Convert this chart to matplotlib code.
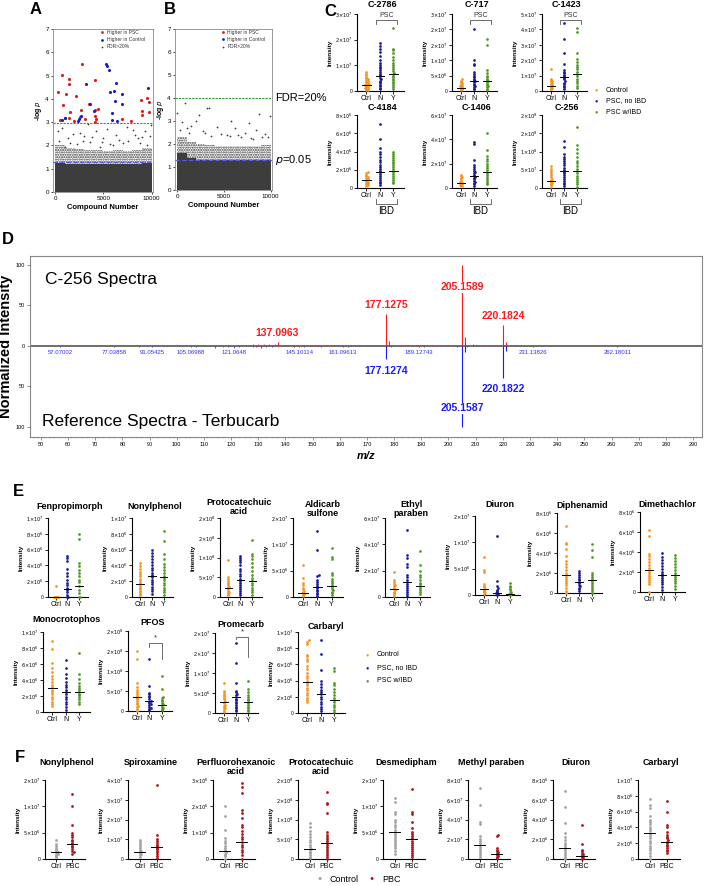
import numpy as np
import matplotlib
matplotlib.use('Agg')
import matplotlib.pyplot as plt
import matplotlib.transforms as mtransforms

plt.rcParams['font.family'] = ['Liberation Sans', 'DejaVu Sans']
plt.rcParams['mathtext.fontset'] = 'dejavusans'

# ---------------- data: panel A / B (volcano-like -log p plots) ----------------
a_psc_x = [240, 690, 790, 1100, 1380, 1380, 1550, 1380, 1900, 2170, 2760, 2690, 2590, 3100, 3450,
           4070, 4070, 4140, 4210, 4070, 4410, 6900, 7830, 8860, 8970, 8970, 9480, 9760, 9690, 490, 1010]
a_psc_y = [4.29, 5.01, 3.75, 4.22, 4.84, 4.65, 3.43, 3.19, 3.05, 4.11, 5.51, 3.53, 3.22, 3.15, 3.76,
           4.79, 3.53, 3.25, 3.15, 3.0, 3.58, 3.12, 3.05, 3.96, 3.5, 3.32, 4.05, 3.86, 3.43, 3.08, 3.18]
a_ctrl_x = [690, 970, 2310, 2410, 2690, 3210, 3620, 3970, 5280, 5410, 5550, 5690, 5860, 5930, 6100,
            6280, 6210, 6380, 6970, 6930, 9660]
a_ctrl_y = [3.10, 3.19, 3.05, 3.12, 3.26, 4.65, 3.79, 3.5, 5.51, 5.39, 5.22, 4.29, 3.39, 3.1, 4.33,
            4.68, 3.91, 3.05, 4.22, 3.79, 4.48]
a_gray_x = [400, 700, 1000, 1300, 1800, 2200, 2600, 3000, 3400, 3600, 4200, 4600, 5000, 5400, 6000,
            6600, 7400, 7600, 8100, 8300, 8800, 9000, 9500, 9800, 9900, 1500, 2900, 4800, 5700, 7000,
            8600, 9300, 300, 3800, 6300]
a_gray_y = [2.2, 2.75, 1.95, 2.3, 2.5, 2.05, 2.55, 2.4, 2.9, 2.15, 2.6, 1.95, 2.3, 2.7, 2.0,
            2.25, 2.8, 2.2, 2.65, 2.45, 2.1, 2.35, 2.0, 2.42, 2.88, 2.1, 2.2, 2.15, 2.05, 2.1,
            2.3, 2.6, 2.6, 2.35, 2.45]
b_gray_x = [0, 800, 3200, 3350, 2300, 9900, 8800, 5800, 2000, 500, 7700, 1500, 4200, 6200, 8400, 7300,
            1200, 9400, 5300, 3600, 6800, 9100, 300, 2700, 4700, 5600, 7900, 1000, 3000, 6500, 8100, 9700]
b_gray_y = [3.35, 3.8, 3.55, 3.55, 3.25, 3.2, 3.3, 3.0, 3.0, 2.95, 2.9, 2.8, 2.75, 2.7, 2.6, 2.5,
            2.5, 2.45, 2.4, 2.35, 2.3, 2.3, 2.6, 2.55, 2.45, 2.35, 2.25, 2.7, 2.5, 2.4, 2.2, 2.3]
# envelope of the dense point cloud per 1000-compound bin
cloud_edges = [0, 1000, 2000, 3000, 4000, 5000, 6000, 7000, 8000, 9000, 10000]
a_solid_top = [1.25, 1.2, 1.2, 1.2, 1.2, 1.2, 1.2, 1.2, 1.2, 1.25]
a_speck_top = [2.0, 1.9, 1.85, 1.8, 1.8, 1.75, 1.8, 1.75, 1.8, 1.9]
b_solid_top = [1.6, 1.4, 1.3, 1.3, 1.3, 1.3, 1.3, 1.3, 1.3, 1.3]
b_speck_top = [2.3, 2.1, 2.0, 1.95, 1.9, 1.9, 1.9, 1.9, 1.9, 1.95]
a_fdr, b_fdr, p05 = 2.95, 4.0, 1.3

# ---------------- data: panel C (units noted per compound) ----------------
c2786 = ([7.4, 6.8, 6.2, 5.5, 5.0, 4.6, 4.2, 3.8, 3.5, 3.2, 2.9, 2.6, 2.4, 2.2, 2.0, 1.8, 1.5, 1.2, 1.0, 0.8, 0.5, 0.3],
         [18.7, 17.5, 16.3, 15.2, 13.5, 12.0, 11.0, 10.2, 9.4, 8.8, 8.0, 7.4, 6.8, 6.2, 5.8, 5.2, 4.6, 4.0, 3.5, 3.0, 2.4, 1.8, 1.2, 0.6],
         [24.5, 16.5, 15.8, 15.0, 13.2, 12.2, 11.0, 10.0, 9.2, 8.4, 7.8, 7.2, 6.6, 6.0, 5.4, 4.8, 4.2, 3.6, 3.0, 2.4, 1.6, 0.8])
c2786_med = [2.5, 6.0, 6.8]
c717 = ([3.8, 3.4, 3.0, 2.6, 2.3, 2.0, 1.7, 1.5, 1.3, 1.1, 0.9, 0.7, 0.5, 0.3],
        [20.0, 10.2, 8.9, 8.4, 6.2, 5.6, 5.0, 4.5, 4.0, 3.6, 3.2, 2.8, 2.4, 2.0, 1.6, 1.2, 0.8, 0.5],
        [16.8, 14.9, 6.7, 5.7, 5.0, 4.5, 4.0, 3.6, 3.2, 2.8, 2.4, 2.0, 1.6, 1.2, 0.8, 0.4])
c717_med = [1.1, 3.3, 3.3]
c1423 = ([1.45, 0.78, 0.72, 0.65, 0.58, 0.52, 0.46, 0.4, 0.35, 0.3, 0.25, 0.2, 0.15, 0.1],
         [4.4, 3.35, 2.5, 1.78, 1.35, 1.25, 1.15, 1.05, 0.95, 0.85, 0.75, 0.65, 0.55, 0.45, 0.35, 0.25, 0.15],
         [4.1, 3.85, 2.45, 2.1, 1.9, 1.7, 1.55, 1.4, 1.25, 1.1, 0.95, 0.8, 0.65, 0.5, 0.35, 0.2])
c1423_med = [0.3, 0.91, 1.08]
c4184 = ([1.75, 1.6, 1.45, 1.3, 1.2, 1.1, 1.0, 0.9, 0.8, 0.7, 0.6, 0.5, 0.4, 0.3, 0.2],
         [7.0, 5.4, 4.4, 3.9, 3.7, 3.4, 3.1, 2.8, 2.5, 2.3, 2.1, 1.9, 1.7, 1.5, 1.3, 1.1, 0.9, 0.7, 0.5, 0.3],
         [3.9, 3.7, 3.5, 3.3, 3.1, 2.9, 2.7, 2.5, 2.3, 2.1, 1.9, 1.7, 1.5, 1.3, 1.1, 0.9, 0.7, 0.5])
c4184_med = [0.9, 1.8, 1.9]
c1406 = ([1.1, 1.0, 0.9, 0.8, 0.7, 0.6, 0.5, 0.45, 0.4, 0.35, 0.3, 0.25, 0.2, 0.15],
         [3.8, 3.6, 2.3, 1.9, 1.7, 1.55, 1.4, 1.3, 1.2, 1.1, 1.0, 0.9, 0.8, 0.7, 0.6, 0.5, 0.4, 0.3, 0.2],
         [4.5, 3.1, 2.6, 2.4, 2.2, 2.0, 1.8, 1.65, 1.5, 1.35, 1.2, 1.05, 0.9, 0.75, 0.6, 0.45, 0.3])
c1406_med = [0.42, 1.0, 1.3]
c256 = ([6.0, 5.2, 4.6, 4.0, 3.5, 3.0, 2.6, 2.2, 1.9, 1.6, 1.3, 1.0, 0.7, 0.4],
        [13.0, 11.2, 9.2, 8.6, 8.0, 7.4, 6.8, 6.2, 5.6, 5.0, 4.5, 4.0, 3.5, 3.0, 2.5, 2.0, 1.5, 1.0, 0.5],
        [16.7, 11.7, 10.7, 9.5, 8.5, 7.5, 6.8, 6.0, 5.3, 4.6, 4.0, 3.4, 2.8, 2.2, 1.6, 1.0, 0.4])
c256_med = [1.9, 4.6, 4.6]

# ---------------- data: panel D (MS/MS spectra) ----------------
spec_mz = [137.0963, 177.1275, 178.13, 205.1589, 206.16, 220.1824, 221.19]
spec_int = [4, 39, 6, 100, 11, 26, 5]
spec_noise_mz = [128, 129, 130, 131, 132, 133, 134, 135, 136, 140, 143, 146, 149, 152, 155, 158, 161,
                 164, 167, 170, 173, 176, 182, 185, 188, 191, 194, 197, 200, 203, 209, 213, 216, 224]
spec_noise_int = [1.5, 1, 2, 1, 1.5, 1, 2, 1, 1.5, 1, 1, 0.8, 1, 0.8, 1, 0.8, 1,
                  0.8, 1, 0.8, 1, 1.2, 0.8, 1, 0.8, 1, 0.8, 1, 0.8, 1, 1.5, 1, 0.8, 1]
ref_mz = [177.1274, 205.1587, 206.16, 220.1822, 221.19]
ref_int = [17, 100, 8, 40, 7]
ref_noise_mz = [63, 70, 81, 86, 95, 103, 107, 114, 117, 119, 123, 128, 129, 131, 133, 135, 143, 147,
                150, 153, 155, 158, 163, 170, 175, 179, 181, 187, 191, 193, 203, 207, 209, 218, 223]
ref_noise_int = [1, 1, 1, 1.5, 1, 1, 1.5, 3, 2, 1.5, 2, 1.5, 2, 2.5, 2, 1.5, 2, 1.5,
                 1, 1.5, 1, 1, 1.5, 1, 1, 1.5, 1, 1, 1.5, 1, 1.5, 1.5, 1, 1, 1]
ref_small_mz = [57.07002, 77.03858, 91.05425, 105.06988, 121.0648, 145.10114, 161.09613,
                189.12743, 231.13826, 262.18011]
ref_small_text = ['57.07002', '77.03858', '91.05425', '105.06988', '121.0648', '145.10114',
                  '161.09613', '189.12743', '231.13826', '262.18011']
ref_small_int = [2, 1.5, 2, 2, 3, 2, 2, 2, 1.5, 1.5]

# ---------------- data: panel E ----------------
fenpropimorph = ([1.4, 0, 0, 0, 0, 0],
                 [5.2, 5.0, 4.6, 3.5, 3.0, 2.6, 2.2, 1.8, 1.5, 1.2, 0.9, 0.6, 0.3, 0, 0],
                 [8.0, 7.3, 4.3, 3.9, 3.4, 3.0, 2.6, 2.2, 1.9, 1.4, 0.9, 0.5, 0, 0])
fenpropimorph_med = [0.0, 1.05, 1.35]
nonylphenol_e = ([4.3, 3.9, 3.5, 3.2, 2.9, 2.6, 2.3, 2.0, 1.8, 1.6, 1.4, 1.2, 1.0, 0.8, 0.6, 0.4, 0.2],
                 [6.0, 5.6, 5.2, 4.8, 4.4, 4.0, 3.7, 3.4, 3.1, 2.8, 2.5, 2.2, 1.9, 1.6, 1.3, 1.0, 0.7, 0.4],
                 [8.4, 7.1, 5.4, 4.8, 4.2, 3.8, 3.4, 3.0, 2.7, 2.4, 2.1, 1.8, 1.5, 1.2, 0.9, 0.6, 0.3])
nonylphenol_e_med = [1.6, 2.7, 2.5]
protocatechuic_e = ([9.3, 5.0, 4.5, 4.0, 3.6, 3.2, 2.8, 2.5, 2.2, 1.9, 1.6, 1.3, 1.0, 0.7, 0.4],
                    [10.5, 10.0, 9.4, 8.8, 8.0, 7.2, 6.5, 5.8, 5.2, 4.6, 4.0, 3.5, 3.0, 2.5, 2.0, 1.5, 1.0, 0.5],
                    [14.5, 11.0, 10.5, 9.5, 8.5, 7.5, 6.5, 5.6, 4.8, 4.2, 3.6, 3.0, 2.4, 1.8, 1.2, 0.6])
protocatechuic_e_med = [2.3, 4.3, 4.0]
aldicarb = ([6.0, 3.6, 2.7, 2.2, 1.8, 1.5, 1.2, 1.0, 0.8, 0.6, 0.4, 0.2],
            [12.5, 8.9, 4.2, 4.0, 3.3, 2.8, 2.4, 2.0, 1.7, 1.4, 1.1, 0.8, 0.5, 0.2],
            [9.3, 7.6, 7.2, 4.5, 4.2, 3.5, 3.0, 2.6, 2.2, 1.9, 1.6, 1.3, 1.0, 0.7, 0.4])
aldicarb_med = [0.8, 1.9, 2.1]
ethylparaben = ([1.9, 1.3, 1.15, 1.0, 0.9, 0.8, 0.7, 0.6, 0.5, 0.4, 0.3, 0.2, 0.1],
                [5.1, 3.2, 3.0, 2.5, 2.3, 1.7, 1.5, 1.3, 1.15, 1.0, 0.85, 0.7, 0.55, 0.4, 0.25, 0.1],
                [3.5, 2.4, 2.0, 1.7, 1.5, 1.3, 1.1, 0.95, 0.8, 0.65, 0.5, 0.35, 0.2])
ethylparaben_med = [0.6, 1.14, 0.8]
diuron_e = ([7.2, 4.8, 4.3, 2.0, 1.8, 1.5, 1.2, 1.0, 0.8, 0.5, 0.3, 0.1],
            [11.2, 2.7, 1.8, 1.3, 1.0, 0.7, 0.5, 0.3, 0.1, 0],
            [2.2, 1.8, 1.5, 1.2, 0.9, 0.6, 0.4, 0.2, 0.1, 0])
diuron_e_med = [1.05, 0.35, 0.2]
diphenamid = ([6.7, 5.0, 4.9, 4.4, 3.7, 3.2, 2.9, 2.6, 2.3, 2.0, 1.8, 1.6, 1.4, 1.2, 1.0, 0.8, 0.5, 0.2, 0],
              [2.2, 2.0, 1.8, 1.6, 1.45, 1.3, 1.15, 1.0, 0.85, 0.7, 0.55, 0.4, 0.2],
              [4.9, 4.3, 3.6, 2.0, 1.8, 1.6, 1.4, 1.2, 1.0, 0.8, 0.6, 0.4, 0.2, 0])
diphenamid_med = [1.85, 1.1, 1.35]
dimethachlor = ([6.2, 5.6, 3.8, 3.6, 3.3, 3.0, 2.7, 2.4, 2.2, 2.0, 1.8, 1.6, 1.4, 1.2, 1.0, 0.8, 0],
                [3.9, 3.5, 3.2, 2.9, 2.6, 2.3, 2.0, 1.8, 1.6, 1.4, 1.2, 1.0, 0.8, 0.5, 0.2],
                [3.7, 3.4, 3.1, 2.8, 2.5, 2.2, 1.9, 1.7, 1.5, 1.3, 1.1, 0.9, 0.6, 0.3])
dimethachlor_med = [2.2, 1.75, 1.7]
monocrotophos = ([8.9, 7.9, 6.1, 5.5, 5.0, 4.5, 4.1, 3.7, 3.4, 3.1, 2.8, 2.5, 2.2, 1.9, 1.6, 1.3, 1.0, 0.7],
                 [6.5, 5.5, 4.7, 4.2, 3.8, 3.4, 3.1, 2.8, 2.5, 2.2, 1.9, 1.6, 1.3, 1.0, 0.6, 0.2],
                 [7.4, 4.7, 4.1, 3.6, 3.3, 3.0, 2.7, 2.5, 2.3, 2.1, 1.9, 1.6, 1.3, 1.0])
monocrotophos_med = [3.0, 2.5, 2.5]
pfos = ([15.0, 13.0, 7.0, 6.0, 5.3, 4.7, 4.2, 3.7, 3.3, 2.9, 2.5, 2.1, 1.7, 1.3, 0.9, 0.5, 0.1],
        [13.0, 6.2, 4.5, 4.2, 3.8, 3.4, 3.0, 2.6, 2.3, 2.0, 1.7, 1.4, 1.1, 0.8, 0.5, 0.2],
        [8.7, 5.5, 3.5, 3.2, 2.8, 2.4, 2.0, 1.7, 1.4, 1.1, 0.8, 0.5, 0.2])
pfos_med = [3.5, 2.4, 1.5]
promecarb = ([7.5, 5.5, 5.0, 4.6, 4.2, 3.8, 3.4, 3.0, 2.7, 2.4, 2.1, 1.8, 1.5, 1.2, 0.9, 0.6, 0.3],
             [17.4, 12.5, 7.5, 5.5, 5.2, 4.8, 4.4, 4.0, 3.6, 3.2, 2.8, 2.4, 2.0, 1.6, 1.2, 0.8, 0.4],
             [8.0, 6.0, 5.2, 4.6, 4.1, 3.6, 3.2, 2.8, 2.4, 2.0, 1.6, 1.2, 0.8, 0.4])
promecarb_med = [2.7, 4.0, 2.7]
carbaryl_e = ([9.0, 8.8, 8.5, 7.2, 7.0, 6.7, 6.4, 5.8, 5.4, 5.0, 4.6, 4.3, 4.0, 3.7, 3.4, 3.1, 2.8, 2.5, 2.2, 1.9, 1.6, 1.3],
              [9.0, 7.3, 5.3, 4.0, 3.6, 3.2, 2.9, 2.6, 2.3, 2.0, 1.7, 1.4, 1.1, 0.8, 0.5, 0.2],
              [5.6, 5.2, 3.7, 3.4, 3.0, 2.6, 2.2, 1.9, 1.6, 1.3, 1.0, 0.7, 0.4, 0.1])
carbaryl_e_med = [3.8, 2.3, 1.6]

# ---------------- data: panel F ----------------
nonylphenol_f = ([3.7, 2.8, 2.4, 2.0, 1.7, 1.5, 1.3, 1.1, 0.9, 0.7, 0.5, 0.3],
                 [12.4, 10.0, 6.5, 5.0, 4.5, 4.1, 3.7, 3.4, 3.1, 2.8, 2.5, 2.2, 1.9, 1.6, 1.3, 1.0])
nonylphenol_f_med = [1.35, 2.85]
spiroxamine = ([0.95, 0.85, 0.75, 0.65, 0.55, 0.48, 0.42, 0.36, 0.3, 0.24, 0.18, 0.12],
               [3.75, 1.2, 1.0, 0.9, 0.8, 0.72, 0.65, 0.58, 0.5, 0.42, 0.35, 0.25, 0.15, 0.05])
spiroxamine_med = [0.35, 0.6]
perfluorohexanoic = ([2.0, 1.65, 1.1, 0.8, 0.7, 0.6, 0.5, 0.42, 0.35, 0.3, 0.25, 0.2, 0.15, 0.1, 0],
                     [2.9, 2.75, 2.5, 1.85, 1.75, 1.55, 1.3, 1.2, 1.05, 0.95, 0.85, 0.75, 0.65, 0.55, 0.45, 0.35, 0.25, 0.15, 0])
perfluorohexanoic_med = [0.3, 0.65]
protocatechuic_f = ([9.0, 8.0, 7.2, 6.4, 5.6, 4.8, 4.2, 3.6, 3.1, 2.6, 2.2, 1.8, 1.4, 1.0, 0.6, 0.2],
                    [17.0, 14.2, 14.0, 11.7, 6.8, 6.2, 5.6, 5.0, 4.5, 4.0, 3.5, 3.0, 2.5, 2.0, 1.5, 1.0, 0.5, 0])
protocatechuic_f_med = [2.5, 4.1]
desmedipham = ([11.6, 10.8, 9.0, 8.5, 7.5, 7.0, 6.5, 6.0, 5.6, 5.2, 4.8, 4.4, 4.0, 3.6, 3.2, 2.8, 2.4, 2.0, 1.6, 1.0],
               [13.3, 9.0, 8.6, 7.0, 5.8, 5.2, 4.7, 4.3, 3.9, 3.5, 3.1, 2.7, 2.3, 1.9, 1.5, 1.1, 0.7, 0.3])
desmedipham_med = [5.1, 3.8]
methylparaben = ([7.2, 5.5, 3.7, 3.5, 2.3, 2.0, 1.8, 1.6, 1.4, 1.2, 1.0, 0.8, 0.6, 0.4, 0.2],
                 [2.4, 2.3, 1.1, 0.95, 0.8, 0.7, 0.6, 0.5, 0.4, 0.3, 0.2, 0.1])
methylparaben_med = [1.45, 0.5]
diuron_f = ([6.9, 5.3, 3.6, 2.6, 2.2, 1.9, 1.6, 1.4, 1.2, 1.0, 0.8, 0.6, 0.4, 0.2, 0],
            [3.4, 1.5, 0.9, 0.8, 0.6, 0.5, 0.4, 0.3, 0.2, 0.1, 0])
diuron_f_med = [1.1, 0.35]
carbaryl_f = ([7.6, 6.8, 6.4, 5.5, 5.0, 4.7, 4.4, 4.1, 3.8, 3.5, 3.2, 2.9, 2.6, 2.3, 2.0, 1.7, 1.4, 1.1, 0.8, 0.4, 0],
              [7.4, 5.9, 4.3, 4.0, 3.4, 3.0, 2.8, 2.6, 2.4, 2.2, 2.0, 1.8, 1.6, 1.4, 1.2, 1.0, 0.8])
carbaryl_f_med = [3.3, 2.1]

# tick values (in the units of each list) and their printed labels
t_0_10_2 = [0, 2, 4, 6, 8, 10]
l_1e7_by2e6 = ['0', '2x10^6', '4x10^6', '6x10^6', '8x10^6', '1x10^7']
t_0_20_5 = [0, 5, 10, 15, 20]
l_2e8_by5e7 = ['0', '5x10^7', '1x10^8', '2x10^8', '2x10^8']
l_2e7_by5e6 = ['0', '5x10^6', '1x10^7', '2x10^7', '2x10^7']
t_0_15_5 = [0, 5, 10, 15]
l_15e6 = ['0', '5x10^6', '1x10^7', '2x10^7']
t_0_8_2 = [0, 2, 4, 6, 8]
l_8e6 = ['0', '2x10^6', '4x10^6', '6x10^6', '8x10^6']

ORANGE, BLUE, GREEN = '#F7941D', '#1A1A9C', '#4F9A22'
GRAY, DKRED = '#A3A3A3', '#B0141C'
PSC_COLORS = [ORANGE, BLUE, GREEN]
PBC_COLORS = [GRAY, DKRED]

W, H = 709, 886
fig = plt.figure(figsize=(W / 100, H / 100), dpi=100)


def box(x0, y0, x1, y1):
    return fig.add_axes([x0 / W, 1 - y1 / H, (x1 - x0) / W, (y1 - y0) / H])


def sci(s):
    if 'x10^' not in s:
        return s
    m, e = s.split('x10^')
    return r'$%s{\times}10^{%s}$' % (m, e)


def spread(vals, top, step=0.09, bin_frac=0.022, wrap=9):
    # deterministic column-scatter offsets so overlapping points fan out
    vals = np.asarray(vals, float)
    offs = np.zeros(len(vals))
    bins = np.floor(vals / (top * bin_frac)).astype(int)
    seen = {}
    for i in np.argsort(vals):
        k = seen.get(bins[i], 0) % wrap
        seen[bins[i]] = seen.get(bins[i], 0) + 1
        offs[i] = ((k + 1) // 2) * step * (1 if k % 2 else -1)
    return offs


def strip(rect, title, groups, meds, ticks, labels, colors, xnames, ms=3.8, title_y=None, title_x=0.55):
    ax = box(*rect)
    top = ticks[-1]
    n = len(groups)
    for i, (vals, med, c) in enumerate(zip(groups, meds, colors)):
        ax.scatter(i + spread(vals, top), vals, s=ms, color=c, linewidths=0, clip_on=False, zorder=3)
        ax.plot([i - 0.32, i + 0.32], [med, med], color='black', lw=0.7, zorder=4, clip_on=False)
    ax.set_xlim(-0.7, n - 1 + 0.8)
    ax.set_ylim(0, top)
    for s in ['top', 'right']:
        ax.spines[s].set_visible(False)
    for s in ['left', 'bottom']:
        ax.spines[s].set_linewidth(0.8)
    ax.set_yticks(ticks)
    ax.set_yticklabels([sci(t) for t in labels], fontsize=3.6)
    ax.set_xticks(range(n))
    ax.set_xticklabels(xnames, fontsize=5)
    ax.tick_params(axis='both', length=2, width=0.6, pad=1)
    ax.set_ylabel('Intensity', fontsize=4.6, fontweight='bold', labelpad=1.5)
    ty = 1.12 if title_y is None else title_y
    ax.text(title_x, ty, title, transform=ax.transAxes, ha='center', va='center',
            fontsize=6.5, fontweight='bold', linespacing=1.0)
    return ax


def bracket(ax, x0, x1, y, drop0, drop1, text, fs):
    trans = mtransforms.blended_transform_factory(ax.transData, ax.transAxes)
    ax.plot([x0, x0, x1, x1], [y - drop0, y, y, y - drop1], color='#555555', lw=0.6,
            transform=trans, clip_on=False)
    ax.text((x0 + x1) / 2, y + 0.06, text, transform=trans, ha='center',
            va='center', fontsize=fs, color='#333333')


def panel_label(x, y, s):
    fig.text(x / W, 1 - y / H, s, fontsize=12, fontweight='bold', ha='center', va='center')


# ---------------- panels A and B ----------------
def pvals(rect, solid, speck, fdr, gray_x, gray_y, psc=None, ctrl=None):
    ax = box(*rect)
    ext_solid = solid + solid[-1:]
    ext_speck = speck + speck[-1:]
    ax.fill_between(cloud_edges, 0, ext_solid, step='post', color='#3d3d3d', lw=0, zorder=1)
    ax.fill_between(cloud_edges, ext_solid, ext_speck, step='post', facecolor='none',
                    edgecolor='#3d3d3d', hatch='.......', lw=0, zorder=1)
    ax.scatter(gray_x, gray_y, s=2.5, marker='+', color='#3d3d3d', linewidths=0.5, zorder=2)
    if psc is not None:
        ax.scatter(psc[0], psc[1], s=5, color='#E01B1B', linewidths=0, zorder=3)
        ax.scatter(ctrl[0], ctrl[1], s=5, color='#1B1BD6', linewidths=0, zorder=3)
    ax.axhline(fdr, color='#2E9E2E', lw=0.8, ls=(0, (2, 1)), zorder=4)
    ax.axhline(p05, color='#5A5AE6', lw=0.8, ls=(0, (4, 2)), zorder=4)
    ax.set_xlim(-250, 10150)
    ax.set_ylim(0, 7)
    ax.set_xticks([0, 5000, 10000])
    ax.set_yticks(range(8))
    ax.tick_params(labelsize=4.5, length=1.5, width=0.5, pad=1.5)
    for s in ax.spines.values():
        s.set_linewidth(0.6)
        s.set_color('#888888')
    ax.set_xlabel('Compound Number', fontsize=5.5, fontweight='bold', labelpad=2)
    ax.set_ylabel(r'-log $\it{p}$', fontsize=5, fontweight='bold', labelpad=1)
    # legend
    lx = 0.49
    for k, (c, m, t) in enumerate([('#E01B1B', 'o', 'Higher in PSC'),
                                    ('#1B1BD6', 'o', 'Higher in Control'),
                                    ('#3d3d3d', '+', 'FDR>20%')]):
        yy = 0.98 - k * 0.045
        ax.scatter([lx], [yy], transform=ax.transAxes, s=4, marker=m, color=c,
                   linewidths=0.5 if m == '+' else 0, zorder=5, clip_on=False)
        ax.text(lx + 0.05, yy, t, transform=ax.transAxes, fontsize=3.6, va='center', color='#333333')
    return ax


axA = pvals((53, 29, 153, 192), a_solid_top, a_speck_top, a_fdr, a_gray_x, a_gray_y,
            (a_psc_x, a_psc_y), (a_ctrl_x, a_ctrl_y))
axB = pvals((175, 29, 272, 190), b_solid_top, b_speck_top, b_fdr, b_gray_x, b_gray_y)
tB = mtransforms.blended_transform_factory(axB.transAxes, axB.transData)
axB.text(1.03, b_fdr, 'FDR=20%', transform=tB, fontsize=8, va='center')
axB.text(1.03, p05, r'$\it{p}$=0.05', transform=tB, fontsize=8, va='center')
panel_label(36, 10, 'A')
panel_label(170, 10, 'B')
panel_label(330, 12, 'C')

# ---------------- panel C ----------------
c_row1 = [((357, 14, 404, 91), 'C-2786', c2786, c2786_med, [0, 10, 20, 30],
           ['0', '1x10^7', '2x10^7', '3x10^7']),
          ((452, 14, 497, 91), 'C-717', c717, c717_med, [0, 5, 10, 15, 20, 25],
           ['0', '5x10^6', '1x10^7', '2x10^7', '2x10^7', '3x10^7']),
          ((542, 14, 587, 91), 'C-1423', c1423, c1423_med, [0, 1, 2, 3, 4, 5],
           ['0', '1x10^7', '2x10^7', '3x10^7', '4x10^7', '5x10^7'])]
c_row2 = [((357, 115, 404, 188), 'C-4184', c4184, c4184_med, t_0_8_2, l_8e6),
          ((452, 115, 497, 188), 'C-1406', c1406, c1406_med, [0, 2, 4, 6],
           ['0', '2x10^7', '4x10^7', '6x10^7']),
          ((542, 115, 587, 188), 'C-256', c256, c256_med, t_0_20_5, l_2e8_by5e7)]
for rect, title, groups, meds, ticks, labels in c_row1:
    ax = strip(rect, title, groups, meds, ticks, labels, PSC_COLORS, ['Ctrl', 'N', 'Y'], title_y=1.12)
    bracket(ax, 0.7, 2.3, 0.92, 0.05, 0.05, 'PSC', 5)
for rect, title, groups, meds, ticks, labels in c_row2:
    ax = strip(rect, title, groups, meds, ticks, labels, PSC_COLORS, ['Ctrl', 'N', 'Y'], title_y=1.1)
    trans = mtransforms.blended_transform_factory(ax.transData, ax.transAxes)
    ax.plot([0.7, 0.7, 2.3, 2.3], [-0.15, -0.22, -0.22, -0.15], color='#555555', lw=0.6,
            transform=trans, clip_on=False)
    ax.text(1.5, -0.32, 'IBD', transform=trans, ha='center', va='center', fontsize=7)

for k, (c, t) in enumerate(zip(PSC_COLORS, ['Control', 'PSC, no IBD', 'PSC w/IBD'])):
    fig.text(596 / W, 1 - (90 + 11 * k) / H, '\u25cf', color=c, fontsize=4, ha='center', va='center')
    fig.text(606 / W, 1 - (90 + 11 * k) / H, t, fontsize=5, va='center')

# ---------------- panel D ----------------
axD = box(30, 256, 702, 437)
axD.axhline(0, color='#6e6e6e', lw=1.4, zorder=1)
axD.vlines(spec_noise_mz, 0, spec_noise_int, color='#E8262B', lw=0.6)
axD.vlines(ref_noise_mz, 0, [-v for v in ref_noise_int], color='#3030F0', lw=0.6)
axD.vlines(ref_small_mz, 0, [-v for v in ref_small_int], color='#3030F0', lw=0.6)
axD.vlines(spec_mz, 0, spec_int, color='#FF1A1A', lw=0.8, zorder=2)
axD.vlines(ref_mz, 0, [-v for v in ref_int], color='#1A1AFF', lw=0.8, zorder=2)
red_labels = [(137.0963, 16), (177.1275, 50), (205.1589, 72), (220.1824, 37)]
blue_labels = [(177.1274, -31), (220.1822, -54), (205.1587, -77)]
for mz, yy in red_labels:
    axD.text(mz, yy, '%.4f' % mz, color='#FF1A1A', fontsize=7.5, fontweight='bold', ha='center',
             va='center', bbox=dict(facecolor='white', edgecolor='none', pad=0.3), zorder=3)
for mz, yy in blue_labels:
    axD.text(mz, yy, '%.4f' % mz, color='#1A1AFF', fontsize=7.5, fontweight='bold', ha='center',
             va='center', bbox=dict(facecolor='white', edgecolor='none', pad=0.3), zorder=3)
for mz, t in zip(ref_small_mz, ref_small_text):
    axD.text(mz, -8.5, t, color='#3030F0', fontsize=4.3, ha='center', va='center')
axD.text(51.5, 81, 'C-256 Spectra', fontsize=12.5, va='center')
axD.text(50.5, -94, 'Reference Spectra - Terbucarb', fontsize=12.5, va='center')
axD.set_xlim(46, 293.3)
axD.set_ylim(-112.6, 110.5)
axD.set_xticks(range(50, 300, 10))
axD.set_xticks(range(47, 294, 2), minor=True)
axD.set_yticks([-100, -50, 0, 50, 100])
axD.set_yticklabels(['100', '50', '0', '50', '100'])
axD.tick_params(labelsize=4, length=2, width=0.5, pad=1.5, color='#666666')
axD.tick_params(which='minor', length=1, width=0.4, color='#888888')
for s in axD.spines.values():
    s.set_linewidth(0.8)
    s.set_color('#888888')
axD.set_ylabel('Normalized Intensity', fontsize=10.5, fontweight='bold')
axD.yaxis.set_label_coords(-17 / 672, 0.5)
axD.set_xlabel('m/z', fontsize=8, fontweight='bold', fontstyle='italic', labelpad=3)
panel_label(8, 240, 'D')

# ---------------- panel E ----------------
XN = ['Ctrl', 'N', 'Y']
e_row1 = [((48, 518, 88, 597), 'Fenpropimorph', fenpropimorph, fenpropimorph_med, t_0_10_2, l_1e7_by2e6, 1.14, 0.55),
          ((132, 518, 173, 597), 'Nonylphenol', nonylphenol_e, nonylphenol_e_med, t_0_10_2, l_1e7_by2e6, 1.14, 0.55),
          ((220, 518, 262, 597), 'Protocatechuic\nacid', protocatechuic_e, protocatechuic_e_med, t_0_20_5,
           l_2e8_by5e7, 1.14, 0.45),
          ((293, 518, 343, 597), 'Aldicarb\nsulfone', aldicarb, aldicarb_med, t_0_15_5, l_15e6, 1.12, 0.6),
          ((385, 518, 430, 597), 'Ethyl\nparaben', ethylparaben, ethylparaben_med, [0, 2, 4, 6],
           ['0', '2x10^7', '4x10^7', '6x10^7'], 1.12, 0.58),
          ((475, 516, 520, 595), 'Diuron', diuron_e, diuron_e_med, t_0_15_5, l_15e6, 1.14, 0.55),
          ((557, 513, 602, 593), 'Diphenamid', diphenamid, diphenamid_med, t_0_8_2, l_8e6, 1.1, 0.55),
          ((640, 512, 685, 592), 'Dimethachlor', dimethachlor, dimethachlor_med, t_0_8_2, l_8e6, 1.09, 0.6)]
e_row2 = [((43, 632, 90, 712), 'Monocrotophos', monocrotophos, monocrotophos_med, t_0_10_2, l_1e7_by2e6, 1.15, 0.5),
          ((128, 631, 172, 711), 'PFOS', pfos, pfos_med, t_0_20_5, l_2e8_by5e7, 1.11, 0.55),
          ((215, 633, 258, 713), 'Promecarb', promecarb, promecarb_med, t_0_20_5, l_2e7_by5e6, 1.11, 0.6),
          ((298, 632, 345, 713), 'Carbaryl', carbaryl_e, carbaryl_e_med, t_0_10_2, l_1e7_by2e6, 1.07, 0.6)]
e_axes = {}
for rect, title, groups, meds, ticks, labels, ty, tx in e_row1 + e_row2:
    e_axes[title] = strip(rect, title, groups, meds, ticks, labels, PSC_COLORS, XN, title_y=ty, title_x=tx)
bracket(e_axes['PFOS'], 1, 2, 0.85, 0.05, 0.2, '*', 6)
bracket(e_axes['Promecarb'], 1, 2, 0.95, 0.03, 0.25, '*', 6)
for k, (c, t) in enumerate(zip(PSC_COLORS, ['Control', 'PSC, no IBD', 'PSC w/IBD'])):
    fig.text(367 / W, 1 - (655 + 13 * k) / H, '\u25cf', color=c, fontsize=4, ha='center', va='center')
    fig.text(377 / W, 1 - (655 + 13 * k) / H, t, fontsize=5, va='center')
panel_label(18, 492, 'E')

# ---------------- panel F ----------------
XF = ['Ctrl', 'PBC']
f_row = [((45, 780, 85, 859), 'Nonylphenol', nonylphenol_f, nonylphenol_f_med, t_0_15_5, l_15e6, 1.22),
         ((128, 780, 170, 859), 'Spiroxamine', spiroxamine, spiroxamine_med, [0, 1, 2, 3, 4],
          ['0', '1x10^7', '2x10^7', '3x10^7', '4x10^7'], 1.22),
         ((213, 780, 255, 859), 'Perfluorohexanoic\nacid', perfluorohexanoic, perfluorohexanoic_med, [0, 1, 2, 3],
          ['0', '1x10^6', '2x10^6', '3x10^6'], 1.16),
         ((298, 780, 340, 859), 'Protocatechuic\nacid', protocatechuic_f, protocatechuic_f_med, t_0_20_5,
          l_2e8_by5e7, 1.16),
         ((383, 780, 425, 859), 'Desmedipham', desmedipham, desmedipham_med, t_0_15_5, l_15e6, 1.22),
         ((468, 780, 510, 859), 'Methyl paraben', methylparaben, methylparaben_med, t_0_8_2,
          ['0', '2x10^7', '4x10^7', '6x10^7', '8x10^7'], 1.22),
         ((553, 780, 595, 859), 'Diuron', diuron_f, diuron_f_med, t_0_8_2, l_8e6, 1.22),
         ((638, 780, 680, 859), 'Carbaryl', carbaryl_f, carbaryl_f_med, t_0_10_2, l_1e7_by2e6, 1.22)]
for rect, title, groups, meds, ticks, labels, ty in f_row:
    strip(rect, title, groups, meds, ticks, labels, PBC_COLORS, XF, ms=4, title_y=ty)
fig.text(320 / W, 1 - 879 / H, '\u25cf', color=GRAY, fontsize=5, ha='center', va='center')
fig.text(330 / W, 1 - 879 / H, 'Control', fontsize=6.5, va='center')
fig.text(372 / W, 1 - 879 / H, '\u25cf', color=DKRED, fontsize=5, ha='center', va='center')
fig.text(382 / W, 1 - 879 / H, 'PBC', fontsize=6.5, va='center')
panel_label(20, 757, 'F')

fig.savefig('out.png', dpi=100)
